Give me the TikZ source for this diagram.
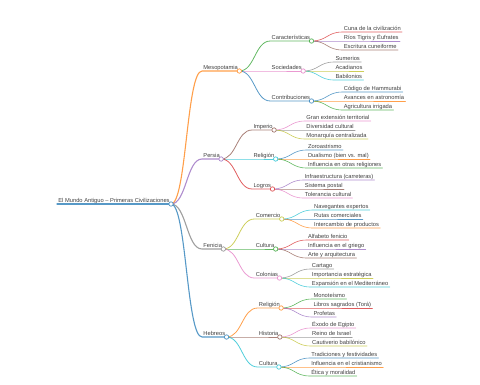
\documentclass[tikz,border=0pt]{standalone}
\usepackage{fontspec}
\setmainfont{Liberation Sans}
\usetikzlibrary{calc}
\definecolor{mmBlue}{HTML}{1F77B4}
\definecolor{mmOrange}{HTML}{FF7F0E}
\definecolor{mmGreen}{HTML}{2CA02C}
\definecolor{mmRed}{HTML}{D62728}
\definecolor{mmPurple}{HTML}{9467BD}
\definecolor{mmBrown}{HTML}{8C564B}
\definecolor{mmPink}{HTML}{E377C2}
\definecolor{mmGray}{HTML}{7F7F7F}
\definecolor{mmOlive}{HTML}{BCBD22}
\definecolor{mmCyan}{HTML}{17BECF}
% curved link from the end of #1 to the start of #2, then the underline of #2
\newcommand{\mmlink}[3]{%
  \path ($(#1.south east)!0.5!(#2.south west)$) coordinate (mid);
  \draw[draw opacity=0.75,#3] (#1.south east) .. controls (mid |- #1.south east) and (mid |- #2.south west) .. (#2.south west) -- (#2.south east);}
% three leaves of a topic
\newcommand{\mmleaves}[2]{%
  \foreach \lbl/\col [count=\i] in {#2}{%
    \node[topic] (#1\i) at ($(#1.south east)+(31,{18-9*\i})$) {\lbl};
    \mmlink{#1}{#1\i}{color=\col,lvlthree}}}
\newcommand{\mmdot}[2]{\draw[color=#2!80!white,line width=0.7pt,fill=white] (#1.south east) circle (2.2);}

\begin{document}
\begin{tikzpicture}[x=1pt,y=1pt,line cap=round,
  topic/.style={font=\fontsize{5.75}{6}\selectfont,text=black!75,anchor=south west,
    inner xsep=1.2pt,inner ysep=0.6pt,text height=4.2pt,text depth=1.2pt},
  lvlone/.style={line width=1.1pt},
  lvltwo/.style={line width=0.8pt},
  lvlthree/.style={line width=0.6pt}]
  \useasboundingbox (0,0) rectangle (480,-384);
  % root
  \node[topic] (root) at (57,-204) {El Mundo Antiguo – Primeras Civilizaciones};
  \draw[mmBlue,draw opacity=0.75,lvlone] (root.south west) -- (root.south east);
  % civilisations
  \node[topic] (meso) at ($(root.south east)+(31,133)$) {Mesopotamia};
  \node[topic] (persia) at ($(root.south east)+(31,45)$) {Persia};
  \node[topic] (fenicia) at ($(root.south east)+(31,-45)$) {Fenicia};
  \node[topic] (hebreos) at ($(root.south east)+(31,-133)$) {Hebreos};
  \mmlink{root}{meso}{mmOrange,lvlone}
  \mmlink{root}{persia}{mmPurple,lvlone}
  \mmlink{root}{fenicia}{mmGray,lvlone}
  \mmlink{root}{hebreos}{mmBlue,lvlone}
  % Mesopotamia
  \node[topic] (car) at ($(meso.south east)+(31,30)$) {Características};
  \node[topic] (soc) at ($(meso.south east)+(31,0)$) {Sociedades};
  \node[topic] (con) at ($(meso.south east)+(31,-30)$) {Contribuciones};
  \mmlink{meso}{car}{mmGreen,lvltwo}
  \mmlink{meso}{soc}{mmPink,lvltwo}
  \mmlink{meso}{con}{mmBlue,lvltwo}
  \mmleaves{car}{Cuna de la civilización/mmRed,Ríos Tigris y Éufrates/mmPurple,Escritura cuneiforme/mmBrown}
  \mmleaves{soc}{Sumerios/mmGray,Acadianos/mmOlive,Babilonios/mmCyan}
  \mmleaves{con}{Código de Hammurabi/mmBlue,Avances en astronomía/mmOrange,Agricultura irrigada/mmGreen}
  % Persia
  \node[topic] (imp) at ($(persia.south east)+(31,29)$) {Imperio};
  \node[topic] (rel) at ($(persia.south east)+(31,0)$) {Religión};
  \node[topic] (log) at ($(persia.south east)+(31,-30)$) {Logros};
  \mmlink{persia}{imp}{mmBrown,lvltwo}
  \mmlink{persia}{rel}{mmCyan,lvltwo}
  \mmlink{persia}{log}{mmRed,lvltwo}
  \mmleaves{imp}{Gran extensión territorial/mmPink,Diversidad cultural/mmGray,Monarquía centralizada/mmOlive}
  \mmleaves{rel}{Zoroastrismo/mmBlue,Dualismo (bien vs. mal)/mmOrange,Influencia en otras religiones/mmGreen}
  \mmleaves{log}{Infraestructura (carreteras)/mmPurple,Sistema postal/mmBrown,Tolerancia cultural/mmPink}
  % Fenicia
  \node[topic] (com) at ($(fenicia.south east)+(31,30)$) {Comercio};
  \node[topic] (cul) at ($(fenicia.south east)+(31,0)$) {Cultura};
  \node[topic] (col) at ($(fenicia.south east)+(31,-29)$) {Colonias};
  \mmlink{fenicia}{com}{mmOlive,lvltwo}
  \mmlink{fenicia}{cul}{mmGreen,lvltwo}
  \mmlink{fenicia}{col}{mmPink,lvltwo}
  \mmleaves{com}{Navegantes expertos/mmCyan,Rutas comerciales/mmBlue,Intercambio de productos/mmOrange}
  \mmleaves{cul}{Alfabeto fenicio/mmRed,Influencia en el griego/mmPurple,Arte y arquitectura/mmBrown}
  \mmleaves{col}{Cartago/mmGray,Importancia estratégica/mmOlive,Expansión en el Mediterráneo/mmCyan}
  % Hebreos
  \node[topic] (hrel) at ($(hebreos.south east)+(31,29)$) {Religión};
  \node[topic] (his) at ($(hebreos.south east)+(31,0)$) {Historia};
  \node[topic] (hcul) at ($(hebreos.south east)+(31,-30)$) {Cultura};
  \mmlink{hebreos}{hrel}{mmOrange,lvltwo}
  \mmlink{hebreos}{his}{mmBrown,lvltwo}
  \mmlink{hebreos}{hcul}{mmCyan,lvltwo}
  \mmleaves{hrel}{Monoteísmo/mmGreen,Libros sagrados (Torá)/mmRed,Profetas/mmPurple}
  \mmleaves{his}{Éxodo de Egipto/mmPink,Reino de Israel/mmGray,Cautiverio babilónico/mmOlive}
  \mmleaves{hcul}{Tradiciones y festividades/mmBlue,Influencia en el cristianismo/mmOrange,Ética y moralidad/mmGreen}
  % circles on top
  \mmdot{root}{mmBlue}
  \mmdot{meso}{mmOrange} \mmdot{persia}{mmPurple} \mmdot{fenicia}{mmGray} \mmdot{hebreos}{mmBlue}
  \mmdot{car}{mmGreen} \mmdot{soc}{mmPink} \mmdot{con}{mmBlue}
  \mmdot{imp}{mmBrown} \mmdot{rel}{mmCyan} \mmdot{log}{mmRed}
  \mmdot{com}{mmOlive} \mmdot{cul}{mmGreen} \mmdot{col}{mmPink}
  \mmdot{hrel}{mmOrange} \mmdot{his}{mmBrown} \mmdot{hcul}{mmCyan}
\end{tikzpicture}
\end{document}
